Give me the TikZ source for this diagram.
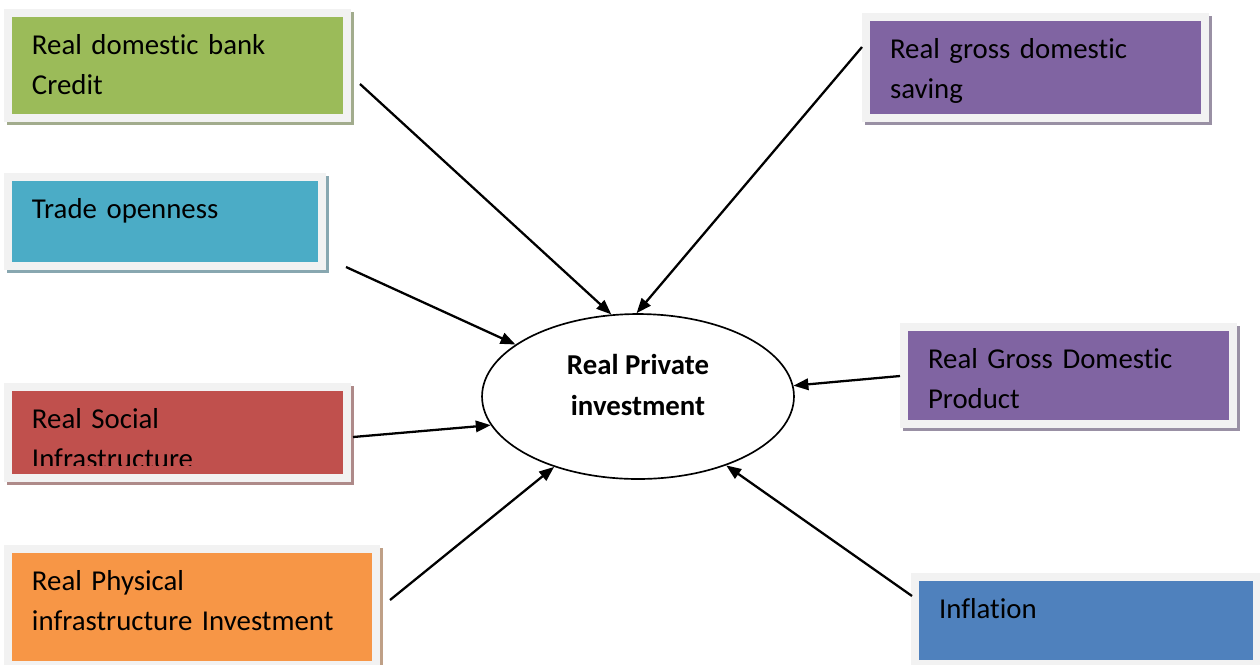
\documentclass[tikz,border=0pt]{standalone}
\usepackage{fontspec}
\setmainfont{Carlito}[Ligatures=NoCommon]
\usepackage{tikz}
\usetikzlibrary{positioning,arrows.meta,shapes.geometric,shadows}

\definecolor{creditgreen}{HTML}{9BBB59}
\definecolor{tradecyan}{HTML}{4BACC6}
\definecolor{socialred}{HTML}{C0504D}
\definecolor{physorange}{HTML}{F79646}
\definecolor{gdpviolet}{HTML}{8064A2}
\definecolor{inflblue}{HTML}{4F81BD}
\definecolor{framegray}{HTML}{F2F2F2}

% a line of text cut off a little above its baseline
\newcommand{\cutline}[2]{\tikz[baseline=0pt]{%
  \path[overlay,clip] (-2pt,#1) rectangle (8cm,20pt);
  \node[inner sep=0pt,anchor=base west,text width=,text height=,text depth=] {#2};}}

\begin{document}
\begin{tikzpicture}[x=0.02cm,y=-0.02cm,
  every node/.style={font=\fontsize{16.4}{23}\selectfont},
  factor/.style={rectangle, anchor=north west, inner xsep=0.4cm, inner ysep=0pt,
    outer sep=0pt, align=left, text height=0.74cm, fill=#1,
    general shadow={draw=#1!40!gray!80!white, line width=0.32cm,
      shadow xshift=0.06cm, shadow yshift=-0.06cm},
    preaction={draw=framegray, line width=0.32cm}},
  hub/.style={ellipse, draw, line width=0.95pt, minimum width=6.24cm,
    minimum height=3.3cm, inner sep=0pt, align=center,
    font=\fontsize{16.4}{23}\selectfont\bfseries, text height=0.74cm, text depth=0pt},
  feed/.style={line width=1.3pt, -{Triangle[length=8.5pt,width=6.5pt]}}]

  \useasboundingbox (0,0) rectangle (1260,664);

  % left column
  \node[factor=creditgreen, text width=5.82cm, text depth=1.2cm] (credit) at (12,17)
    {Real domestic bank\\Credit};
  \node[factor=tradecyan, text width=5.32cm, text depth=0.88cm] (trade) at (12,181)
    {Trade openness};
  \node[factor=socialred, text width=5.82cm, text depth=0.92cm] (social) at (12,391)
    {Real Social\\\cutline{1.7pt}{Infrastructure}};
  \node[factor=physorange, text width=6.4cm, text depth=1.42cm] (physical) at (12,553)
    {Real Physical\\infrastructure Investment};

  % right column
  \node[factor=gdpviolet, text width=5.82cm, text depth=1.12cm] (saving) at (870,21)
    {Real gross domestic\\saving};
  \node[factor=gdpviolet, text width=5.62cm, text depth=1.04cm] (gdp) at (908,331)
    {Real Gross Domestic\\Product};
  \node[factor=inflblue, text width=5.88cm, text depth=0.84cm] (inflation) at (919,581)
    {Inflation};

  \node[hub] (rpi) at (638,396.5) {Real Private\\investment};

  % arrows start a little away from the boxes
  \coordinate (fromcredit) at (360,84);
  \coordinate (fromsaving) at (862,47);
  \coordinate (fromtrade) at (346,267);
  \coordinate (fromsocial) at (353,437);
  \coordinate (fromphysical) at (390,600);
  \coordinate (frominflation) at (912,596);
  \coordinate (fromgdp) at (900,376);

  \draw[feed] (fromcredit) -- (rpi.108);
  \draw[feed] (fromsaving) -- (rpi.91);
  \draw[feed] (fromtrade) -- (rpi.157);
  \draw[feed] (fromsocial) -- (rpi.191);
  \draw[feed] (fromphysical) -- (rpi.220);
  \draw[feed] (frominflation) -- (rpi.322);
  \draw[feed] (fromgdp) -- (rpi.4);
\end{tikzpicture}
\end{document}
